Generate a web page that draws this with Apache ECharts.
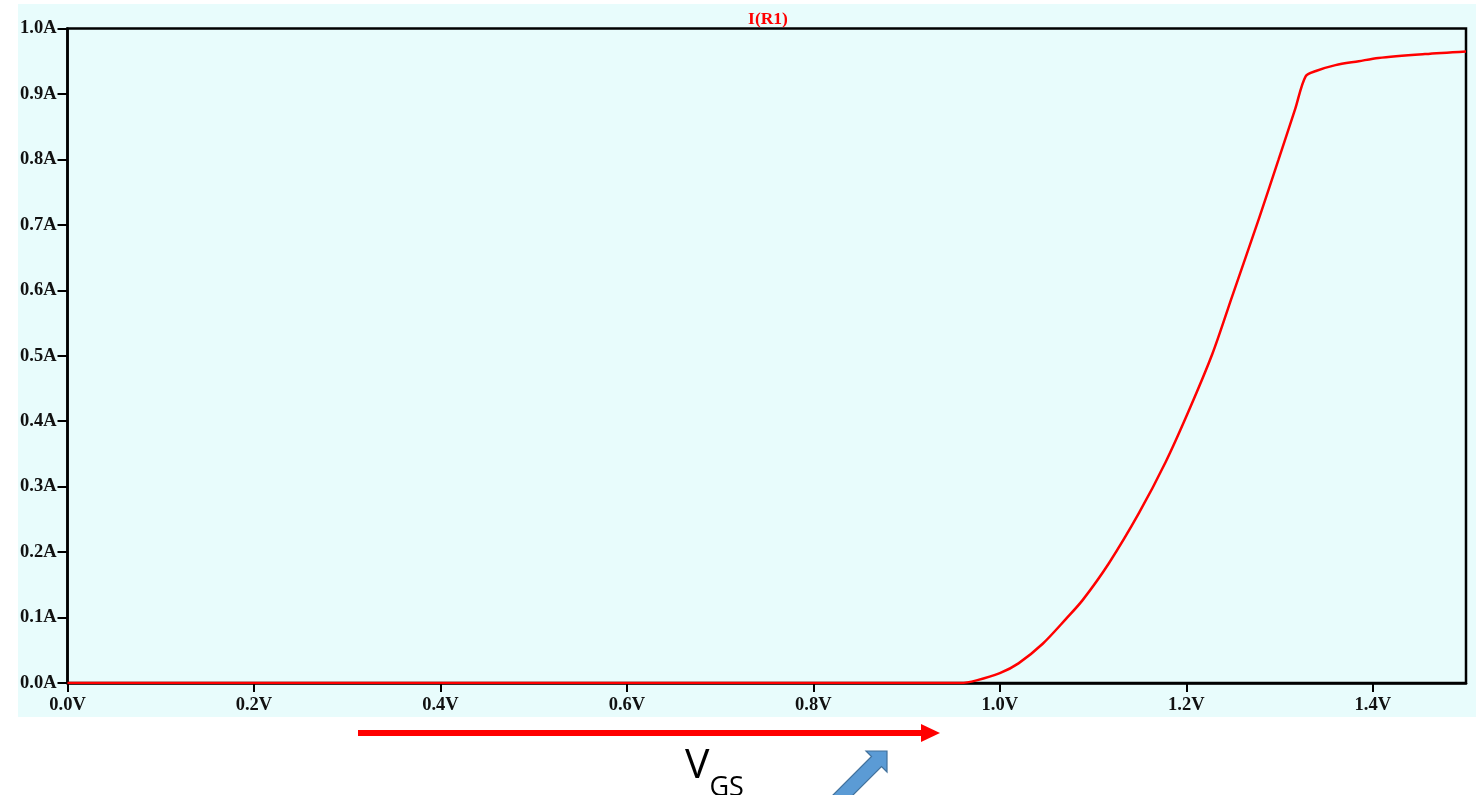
<!DOCTYPE html>
<html>
<head>
<meta charset="utf-8">
<script src="https://cdn.jsdelivr.net/npm/echarts@6/dist/echarts.min.js"></script>
<style>
  html, body { margin: 0; padding: 0; background: #ffffff; }
  #chart { width: 1476px; height: 795px; }
</style>
</head>
<body>
<div id="chart"></div>
<script>
// Gate-source sweep (V) and the resulting current through R1 (A)
const vgs = [0, 0.958, 0.975, 1.0, 1.02, 1.046, 1.071, 1.089, 1.117, 1.149, 1.178,
             1.203, 1.228, 1.249, 1.278, 1.299, 1.317, 1.328, 1.339, 1.36, 1.385,
             1.406, 1.456, 1.5];
const currentR1 = [0, 0, 0.004, 0.015, 0.030, 0.060, 0.098, 0.127, 0.183, 0.259, 0.338,
                   0.417, 0.503, 0.59, 0.71, 0.80, 0.878, 0.927, 0.935, 0.944, 0.950,
                   0.955, 0.961, 0.965];
const xTicks = [0, 0.2, 0.4, 0.6, 0.8, 1.0, 1.2, 1.4];
const yTicks = [0, 0.1, 0.2, 0.3, 0.4, 0.5, 0.6, 0.7, 0.8, 0.9, 1.0];
const traceName = 'I(R1)';

const chart = echarts.init(document.getElementById('chart'), null, { renderer: 'canvas' });

const labelFont = {
  fontFamily: 'Liberation Serif',
  fontWeight: 'bold',
  fontSize: 18.5,
  color: '#111111'
};

chart.setOption({
  animation: false,
  backgroundColor: '#ffffff',
  title: {
    text: traceName,
    left: 763,
    textAlign: 'center',
    top: 5,
    textStyle: { fontFamily: 'Liberation Serif', fontWeight: 'bold', fontSize: 17.5, color: '#ff0000' }
  },
  grid: {
    left: 67.5, top: 28.5, right: 10, bottom: 112,
    show: true,
    backgroundColor: 'transparent',
    borderColor: '#000000',
    borderWidth: 2.5
  },
  xAxis: {
    type: 'value',
    min: 0, max: 1.5,
    splitLine: { show: false },
    axisLine: { show: true, lineStyle: { color: '#000', width: 2.5 } },
    axisTick: { show: true, length: 9, customValues: xTicks, lineStyle: { color: '#000', width: 2 } },
    axisLabel: Object.assign({ margin: 13, customValues: xTicks, formatter: v => v.toFixed(1) + 'V' }, labelFont)
  },
  yAxis: {
    type: 'value',
    min: 0, max: 1.0,
    splitLine: { show: false },
    axisLine: { show: true, lineStyle: { color: '#000', width: 2.5 } },
    axisTick: { show: true, length: 10, customValues: yTicks, lineStyle: { color: '#000', width: 2 } },
    axisLabel: Object.assign({ margin: 11, customValues: yTicks, formatter: v => v.toFixed(1) + 'A' }, labelFont)
  },
  series: [{
    name: traceName,
    type: 'line',
    data: vgs.map((v, i) => [v, currentR1[i]]),
    symbol: 'none',
    smooth: 0.3,
    clip: true,
    lineStyle: { color: '#ff0000', width: 2.5 },
    z: 5
  }],
  graphic: [
    // plot window backdrop
    { type: 'rect', z: -100, silent: true,
      shape: { x: 18, y: 4, width: 1458, height: 713 },
      style: { fill: '#e8fcfc' } },
    // sweep direction arrow
    { type: 'rect', silent: true,
      shape: { x: 358, y: 730, width: 564, height: 6 },
      style: { fill: '#ff0000' } },
    { type: 'polygon', silent: true,
      shape: { points: [[921, 724], [940, 733], [921, 742]] },
      style: { fill: '#ff0000' } },
    // V_GS caption
    { type: 'text', silent: true, left: 685, top: 746,
      style: {
        text: '{v|V}{s|GS}',
        rich: {
          v: { fontFamily: 'Open Sans', fontSize: 41, fill: '#000000', verticalAlign: 'bottom', lineHeight: 50 },
          s: { fontFamily: 'Open Sans', fontSize: 27, fill: '#000000', verticalAlign: 'bottom', lineHeight: 40, padding: [0, 0, -15, 0] }
        }
      } },
    // pointer arrow
    { type: 'polygon', silent: true,
      shape: { points: [[887, 751], [887, 772], [881.5, 766.5], [828, 820], [818, 810], [871.5, 756.5], [866, 751]] },
      style: { fill: '#5b9bd5', stroke: '#41719c', lineWidth: 1.2 } }
  ]
});
</script>
</body>
</html>
